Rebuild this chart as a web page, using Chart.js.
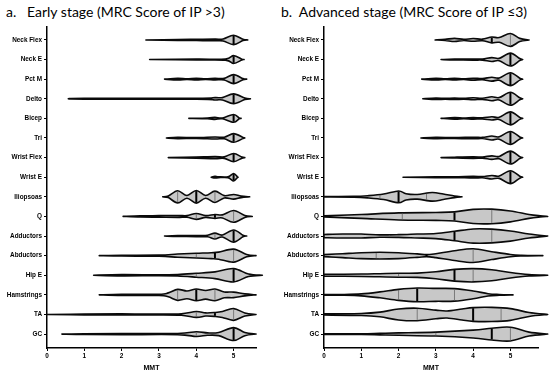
<!DOCTYPE html>
<html>
<head>
<meta charset="utf-8">
<script src="https://cdn.jsdelivr.net/npm/chart.js@4/dist/chart.umd.min.js"></script>
<style>
  body { margin: 0; background: #fff; }
  #wrap { position: relative; width: 550px; height: 373px; overflow: hidden; }
  canvas { position: absolute; top: 0; }
  .ttl { position: absolute; top: 3px; font-family: Lato, "Open Sans", sans-serif; font-size: 14px; color: #000; white-space: pre; }
</style>
</head>
<body>
<div id="wrap">
  <div class="ttl" style="left:6px">a.   Early stage (MRC Score of IP &gt;3)</div>
  <div class="ttl" style="left:281px">b.  Advanced stage (MRC Score of IP ≤3)</div>
  <canvas id="early" width="275" height="373" style="left:0"></canvas>
  <canvas id="advanced" width="275" height="373" style="left:275px"></canvas>
</div>
<script>
// muscles, top to bottom
const muscles = ['Neck Flex', 'Neck E', 'Pct M', 'Delto', 'Bicep', 'Tri', 'Wrist Flex', 'Wrist E',
  'Iliopsoas', 'Q', 'Adductors', 'Abductors', 'Hip E', 'Hamstrings', 'TA', 'GC'];
const mmtTicks = [0, 1, 2, 3, 4, 5];

// violin outlines: [MMT, half width in rows]
const earlyDensity = [
  [[2.65,0],[3.5,0.02],[4,0.03],[4.5,0.04],[4.72,0.05],[5,0.24],[5.25,0.03],[5.38,0]],
  [[2.75,0],[4,0.02],[4.78,0.03],[5,0.2],[5.22,0.02],[5.28,0]],
  [[3.15,0],[3.5,0.04],[3.75,0.02],[4,0.04],[4.25,0.02],[4.5,0.04],[4.75,0.04],[5,0.23],[5.25,0.03],[5.35,0]],
  [[0.57,0],[1,0.02],[4,0.02],[4.5,0.06],[4.7,0.06],[5,0.25],[5.3,0.04],[5.45,0]],
  [[3.8,0],[4.3,0.02],[4.5,0.05],[4.7,0.02],[5,0.2],[5.15,0.02],[5.2,0]],
  [[3.2,0],[3.5,0.03],[4,0.02],[4.5,0.05],[4.75,0.04],[5,0.22],[5.25,0.03],[5.3,0]],
  [[3.25,0],[4,0.03],[4.5,0.05],[4.75,0.04],[5,0.21],[5.22,0.03],[5.3,0]],
  [[4.4,0],[4.5,0.04],[4.6,0.02],[4.85,0.02],[5,0.19],[5.1,0.02],[5.12,0]],
  [[3.1,0],[3.25,0.04],[3.5,0.31],[3.75,0.07],[4,0.32],[4.25,0.07],[4.5,0.29],[4.75,0.06],[5,0.12],[5.2,0.04],[5.43,0]],
  [[2.04,0],[2.5,0.03],[3,0.04],[3.5,0.05],[3.75,0.04],[4,0.15],[4.25,0.05],[4.5,0.1],[4.7,0.08],[5,0.3],[5.3,0.05],[5.5,0]],
  [[3.15,0],[3.5,0.02],[4,0.03],[4.3,0.04],[4.5,0.15],[4.7,0.05],[5,0.31],[5.25,0.04],[5.35,0]],
  [[1.4,0],[2,0.02],[3,0.03],[3.5,0.08],[4,0.12],[4.4,0.15],[4.6,0.18],[5,0.33],[5.35,0.06],[5.6,0]],
  [[1.25,0],[2,0.03],[3,0.02],[3.5,0.04],[4,0.1],[4.5,0.17],[5,0.34],[5.4,0.06],[5.77,0]],
  [[1.4,0],[2,0.03],[3,0.03],[3.25,0.1],[3.5,0.28],[3.75,0.2],[4,0.3],[4.25,0.22],[4.5,0.3],[4.75,0.15],[5,0.14],[5.3,0.05],[5.6,0]],
  [[0,0],[1,0.02],[2,0.03],[3,0.02],[3.6,0.04],[4,0.15],[4.25,0.08],[4.5,0.1],[4.7,0.15],[5,0.3],[5.3,0.08],[5.6,0]],
  [[0.4,0],[1,0.02],[2,0.03],[3.5,0.03],[4,0.12],[4.3,0.06],[4.6,0.08],[5,0.33],[5.3,0.08],[5.6,0]]
];
// [Q1, median, Q3]
const earlyQuartiles = [
  [null,5,null],[null,5,null],[null,5,null],[null,5,null],[null,5,null],[null,5,null],[null,5,null],[null,5,null],
  [3.5,4,4.5],[4,4.5,5],[4.5,5,null],[4,4.5,5],[4,5,null],[3.5,4,4.5],[4,4.5,5],[4,5,null]
];

const advancedDensity = [
  [[2.98,0],[3.25,0.03],[3.5,0.08],[3.75,0.03],[4,0.07],[4.25,0.04],[4.5,0.15],[4.7,0.12],[5,0.33],[5.25,0.08],[5.5,0]],
  [[3.14,0],[3.5,0.02],[4,0.03],[4.25,0.03],[4.5,0.1],[4.7,0.06],[5,0.33],[5.25,0.05],[5.33,0]],
  [[2.62,0],[3,0.04],[3.25,0.02],[3.5,0.04],[3.75,0.02],[4,0.05],[4.25,0.03],[4.5,0.1],[4.7,0.06],[5,0.33],[5.25,0.05],[5.33,0]],
  [[2.65,0],[3,0.04],[3.25,0.02],[3.5,0.04],[3.75,0.02],[4,0.05],[4.25,0.03],[4.5,0.1],[4.7,0.06],[5,0.33],[5.25,0.05],[5.33,0]],
  [[3.14,0],[3.5,0.04],[3.75,0.02],[4,0.04],[4.25,0.03],[4.5,0.08],[4.7,0.06],[5,0.33],[5.25,0.05],[5.33,0]],
  [[2.6,0],[3,0.03],[3.5,0.02],[4,0.04],[4.25,0.03],[4.5,0.1],[4.7,0.06],[5,0.33],[5.25,0.05],[5.33,0]],
  [[3.14,0],[3.5,0.02],[4,0.04],[4.25,0.03],[4.5,0.09],[4.7,0.06],[5,0.33],[5.25,0.05],[5.33,0]],
  [[2.12,0],[3,0.02],[3.5,0.02],[4,0.04],[4.25,0.03],[4.5,0.09],[4.7,0.06],[5,0.33],[5.25,0.05],[5.33,0]],
  [[0,0.01],[0.8,0.02],[1.2,0.06],[1.6,0.14],[2,0.3],[2.2,0.16],[2.5,0.12],[2.9,0.22],[3.2,0.14],[3.5,0.04],[3.7,0]],
  [[0,0.03],[1,0.1],[2,0.18],[3,0.2],[3.5,0.23],[4,0.36],[4.5,0.37],[5,0.28],[5.5,0.1],[5.8,0.03],[6,0]],
  [[0,0.08],[0.5,0.1],[1,0.1],[1.5,0.06],[2,0.07],[2.5,0.1],[3,0.13],[3.5,0.24],[4,0.36],[4.5,0.35],[5,0.26],[5.5,0.1],[6,0]],
  [[0,0.05],[0.5,0.1],[1,0.15],[1.5,0.17],[2,0.15],[2.5,0.09],[2.75,0.05],[3,0.1],[3.5,0.25],[4,0.35],[4.5,0.2],[5,0.06],[5.3,0.02],[5.87,0]],
  [[0,0.05],[1,0.06],[1.5,0.08],[2,0.1],[2.5,0.11],[3,0.18],[3.5,0.3],[4,0.34],[4.5,0.28],[5,0.14],[5.5,0.04],[6,0]],
  [[0,0.02],[0.5,0.02],[1,0.05],[1.5,0.15],[2,0.28],[2.5,0.35],[3,0.33],[3.5,0.32],[4,0.2],[4.4,0.06],[4.7,0.02],[5.07,0]],
  [[0,0.03],[1,0.05],[1.5,0.12],[2,0.28],[2.5,0.32],[3,0.22],[3.3,0.18],[3.7,0.28],[4,0.35],[4.5,0.36],[5,0.3],[5.5,0.1],[6,0]],
  [[0,0.02],[1,0.02],[1.5,0.04],[2,0.06],[3,0.1],[4,0.2],[4.5,0.3],[5,0.35],[5.5,0.1],[6,0]]
];
const advancedQuartiles = [
  [null,4.5,5],[null,5,null],[null,5,null],[null,5,null],[null,5,null],[null,5,null],[null,5,null],[null,5,null],
  [1.5,2,2.75],[2.1,3.5,4.5],[1.75,3.5,4.5],[1.4,2.75,4],[2,3.5,4],[2,2.5,3.5],[2.5,4,4.75],[3,4.5,5]
];

// half width at a given MMT (linear between read points)
function widthAt(prof, v) {
  for (let i = 1; i < prof.length; i++) {
    if (v <= prof[i][0]) {
      const [x0, w0] = prof[i - 1], [x1, w1] = prof[i];
      return w0 + (w1 - w0) * (v - x0) / (x1 - x0);
    }
  }
  return 0;
}

// catmull-rom through pts, continuing current path
function smoothLine(ctx, pts, start) {
  if (start) ctx.moveTo(pts[0][0], pts[0][1]);
  else ctx.lineTo(pts[0][0], pts[0][1]);
  for (let i = 0; i < pts.length - 1; i++) {
    const p0 = pts[i - 1] || pts[i], p1 = pts[i], p2 = pts[i + 1], p3 = pts[i + 2] || p2;
    ctx.bezierCurveTo(
      p1[0] + (p2[0] - p0[0]) / 6, p1[1] + (p2[1] - p0[1]) / 6,
      p2[0] - (p3[0] - p1[0]) / 6, p2[1] - (p3[1] - p1[1]) / 6,
      p2[0], p2[1]);
  }
}

const violinPlugin = {
  id: 'violins',
  afterDatasetsDraw(chart, args, opts) {
    const { ctx, scales: { x, y } } = chart;
    const rowPx = Math.abs(y.getPixelForValue(1) - y.getPixelForValue(0));
    ctx.save();
    opts.density.forEach((prof, i) => {
      const yc = y.getPixelForValue(i);
      const top = prof.map(([v, w]) => [x.getPixelForValue(v), yc - w * rowPx]);
      const bot = prof.map(([v, w]) => [x.getPixelForValue(v), yc + w * rowPx]).reverse();
      ctx.beginPath();
      smoothLine(ctx, top, true);
      smoothLine(ctx, bot, false);
      ctx.closePath();
      ctx.fillStyle = '#c8c8c8';
      ctx.fill();
      ctx.lineWidth = 1.6;
      ctx.strokeStyle = '#0a0a0a';
      ctx.lineJoin = 'round';
      ctx.stroke();

      opts.quartiles[i].forEach((q, k) => {
        if (q === null) return;
        const px = x.getPixelForValue(q);
        const h = Math.max(widthAt(prof, q) * rowPx - 0.6, 1);
        ctx.beginPath();
        ctx.moveTo(px, yc - h);
        ctx.lineTo(px, yc + h);
        ctx.lineWidth = k === 1 ? 2 : 0.8;
        ctx.strokeStyle = k === 1 ? '#000' : '#666';
        ctx.stroke();
      });
    });
    ctx.restore();
  }
};

const tickFont = { family: '"Liberation Sans", Arial, sans-serif', size: 6.4, weight: 'bold' };

function makeChart(id, density, quartiles, xMax, axisLeft, padRight) {
  return new Chart(document.getElementById(id), {
    type: 'scatter',
    data: { datasets: [] },
    plugins: [violinPlugin],
    options: {
      responsive: false,
      animation: false,
      layout: { padding: { top: 27, right: padRight, left: 0, bottom: 0 } },
      plugins: {
        legend: { display: false },
        tooltip: { enabled: false },
        violins: { density, quartiles }
      },
      scales: {
        x: {
          type: 'linear',
          min: 0,
          max: xMax,
          afterBuildTicks: s => { s.ticks = mmtTicks.map(v => ({ value: v })); },
          afterFit: s => { s.height = 25; },
          ticks: { color: '#000', font: tickFont, padding: 1, maxRotation: 0 },
          grid: { drawOnChartArea: false, drawTicks: true, tickLength: 3, color: '#000', lineWidth: 1 },
          border: { color: '#000', width: 1.5 },
          title: {
            display: true, text: 'MMT', color: '#000',
            font: { family: '"Liberation Sans", Arial, sans-serif', size: 7, weight: 'bold' },
            padding: { top: 0, bottom: 1 }
          }
        },
        y: {
          type: 'linear',
          reverse: true,
          min: -0.66,
          max: 15.71,
          afterBuildTicks: s => { s.ticks = muscles.map((m, i) => ({ value: i })); },
          afterFit: s => { s.width = axisLeft; },
          ticks: { color: '#000', font: tickFont, padding: 2, callback: v => muscles[v] },
          grid: { drawOnChartArea: false, drawTicks: true, tickLength: 3, color: '#000', lineWidth: 1 },
          border: { color: '#000', width: 1.5 }
        }
      }
    }
  });
}

makeChart('early', earlyDensity, earlyQuartiles, 5.6, 47, 19);
makeChart('advanced', advancedDensity, advancedQuartiles, 5.74, 49, 12);
</script>
</body>
</html>
